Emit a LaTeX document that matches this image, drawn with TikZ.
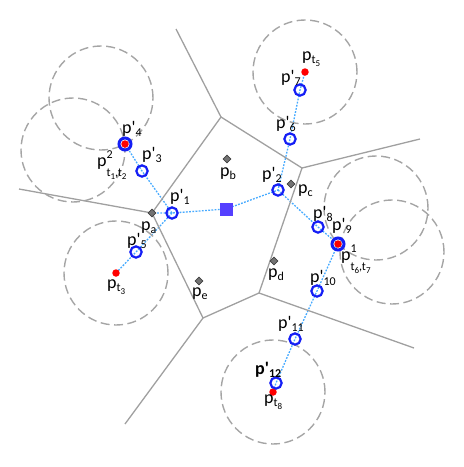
\documentclass[tikz,border=0pt]{standalone}
\usepackage{fontspec}
\setmainfont{Carlito}
\usetikzlibrary{shapes.geometric, backgrounds}

\definecolor{cellgray}{RGB}{160,160,160}
\definecolor{rangegray}{RGB}{165,165,165}
\definecolor{hopblue}{RGB}{70,170,255}
\definecolor{relayblue}{RGB}{20,30,245}
\definecolor{sinkblue}{RGB}{85,64,255}

% small raised and lowered text
\newcommand{\lbsub}[1]{\raisebox{-3pt}{\fontsize{12}{12}\selectfont #1}}
\newcommand{\lbtiny}[1]{\raisebox{-3pt}{\fontsize{9}{9}\selectfont #1}}
\newcommand{\relaylbl}[1]{p\textquotesingle\lbsub{#1}}
\newcommand{\sitelbl}[1]{p\lbsub{#1}}
\newcommand{\targetlbl}[1]{p\lbsub{t\lbtiny{#1}}}
\newcommand{\meetlbl}[3]{p\rlap{\raisebox{8pt}{\fontsize{12}{12}\selectfont #1}}%
  \raisebox{-10pt}{\fontsize{12}{12}\selectfont t\lbtiny{#2},t\lbtiny{#3}}}

\begin{document}
\begin{tikzpicture}[x=1pt, y=-1pt, font=\fontsize{18}{20}\selectfont,
  cell/.style={draw=cellgray, line width=1.3pt},
  reach/.style={draw=rangegray, line width=1.4pt, dash pattern=on 9pt off 4.5pt},
  hop/.style={draw=hopblue, line width=1.3pt, dash pattern=on 1.8pt off 1.4pt},
  relay/.style={circle, draw=relayblue, line width=2.2pt, minimum size=11.3pt, inner sep=0pt},
  hit/.style={relay, line width=3pt, minimum size=12pt},
  target/.style={circle, fill=red, minimum size=7.5pt, inner sep=0pt},
  site/.style={diamond, draw=black!75, fill=black!55, line width=0.6pt, minimum size=8pt, inner sep=0pt},
  sink/.style={fill=sinkblue, minimum size=13pt, inner sep=0pt},
  lbl/.style={anchor=base west, inner sep=0pt}]

  \useasboundingbox (0,0) rectangle (464,467);

  % voronoi cells
  \coordinate (va) at (152,213);
  \coordinate (vb) at (221,117);
  \coordinate (vc) at (302,168);
  \coordinate (vd) at (259,293);
  \coordinate (ve) at (203,318);
  \coordinate (oa) at (19,189);
  \coordinate (ob) at (176,29);
  \coordinate (oc) at (420,139);
  \coordinate (od) at (414,348);
  \coordinate (oe) at (125,424);
  \draw[cell] (va) -- (vb) -- (vc) -- (vd) -- (ve) -- cycle;
  \draw[cell] (va) -- (oa);
  \draw[cell] (vb) -- (ob);
  \draw[cell] (vc) -- (oc);
  \draw[cell] (vd) -- (od);
  \draw[cell] (ve) -- (oe);

  % sensing ranges
  \coordinate (t1) at (101,98);
  \coordinate (t2) at (73,150);
  \coordinate (t6) at (376,208);
  \coordinate (t7) at (392,252);
  \node[target] (t3) at (116,273) {};
  \node[target] (t5) at (305,72) {};
  \node[target] (t8) at (273,392) {};
  \foreach \c in {t1,t2,t3,t5,t6,t7,t8}
    \draw[reach] (\c) circle[radius=52pt];

  % sites and sink
  \node[site] (pa) at (va) {};
  \node[site] (pb) at (227,159) {};
  \node[site] (pc) at (291,184) {};
  \node[site] (pd) at (274,261) {};
  \node[site] (pe) at (199,281) {};
  \node[sink] (sink) at (226,209) {};

  % relay positions
  \node[relay] (r1) at (172,213) {};
  \node[relay] (r2) at (278,190) {};
  \node[relay] (r3) at (142,171) {};
  \node[hit] (r4) at (125,144) {};
  \node[target] at (r4) {};
  \node[relay] (r5) at (136,252) {};
  \node[relay] (r6) at (290,139) {};
  \node[relay] (r7) at (300,90) {};
  \node[relay] (r8) at (318,227) {};
  \node[hit] (r9) at (338,244) {};
  \node[target] at (r9) {};
  \node[relay] (r10) at (317,291) {};
  \node[relay] (r11) at (295,339) {};
  \node[relay] (r12) at (276,383) {};

  % hops
  \begin{scope}[on background layer]
    \draw[hop] (sink.center) -- (r1.center) -- (pa.center);
    \draw[hop] (r1.center) -- (r3.center) -- (r4.center);
    \draw[hop] (r1.center) -- (r5.center) -- (t3.center);
    \draw[hop] (sink.center) -- (r2.center) -- (r6.center) -- (r7.center) -- (t5.center);
    \draw[hop] (r2.center) -- (r8.center) -- (r9.center) -- (r10.center)
      -- (r11.center) -- (r12.center) -- (t8.center);
  \end{scope}

  % labels
  \node[lbl] (l1) at (170,201) {\relaylbl{1}};
  \node[lbl] (l2) at (262,179) {\relaylbl{2}};
  \node[lbl] (l3) at (142,159) {\relaylbl{3}};
  \node[lbl] (l4) at (122,133) {\relaylbl{4}};
  \node[lbl] (l5) at (127,245) {\relaylbl{5}};
  \node[lbl] (l6) at (276,128) {\relaylbl{6}};
  \node[lbl] (l7) at (281,82) {\relaylbl{7}};
  \node[lbl] (l8) at (313,218) {\relaylbl{8}};
  \node[lbl] (l9) at (332,230) {\relaylbl{9}};
  \node[lbl] (l10) at (310,282) {\relaylbl{10}};
  \node[lbl] (l11) at (278,328) {\relaylbl{11}};
  \node[lbl] (l12) at (255,374) {\bfseries\relaylbl{12}};
  \node[lbl] (la) at (141,230) {\sitelbl{a}};
  \node[lbl] (lb) at (220,176) {\sitelbl{b}};
  \node[lbl] (lc) at (298,193) {\sitelbl{c}};
  \node[lbl] (ld) at (268,277) {\sitelbl{d}};
  \node[lbl] (le) at (192,296) {\sitelbl{e}};
  \node[lbl] (lt3) at (107,288) {\targetlbl{3}};
  \node[lbl] (lt5) at (302,60) {\targetlbl{5}};
  \node[lbl] (lt8) at (264,403) {\targetlbl{8}};
  \node[lbl] (lt12) at (97,166) {\meetlbl{2}{1}{2}};
  \node[lbl] (lt67) at (341,260) {\meetlbl{1}{6}{7}};
\end{tikzpicture}
\end{document}
